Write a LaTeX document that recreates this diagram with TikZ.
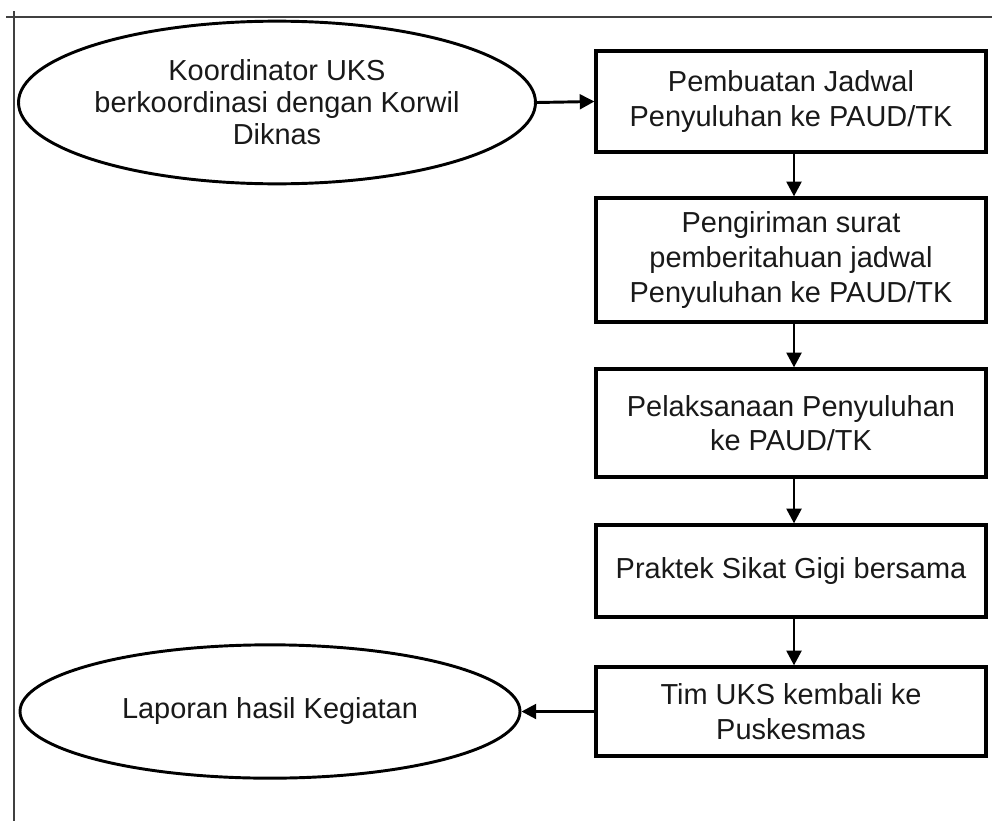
\documentclass[tikz,border=0pt]{standalone}
\usepackage{fontspec}
\setmainfont{Liberation Sans}
\usetikzlibrary{shapes.geometric,arrows.meta}
\begin{document}
\begin{tikzpicture}[x=0.75pt,y=-0.75pt,
  every node/.style={font=\fontsize{21.7pt}{26pt}\selectfont, text=black!90},
  stepbox/.style={draw, line width=2.4pt, rectangle, inner sep=0pt, align=center,
     minimum width=292.5pt},
  oval/.style={draw, line width=2.2pt, ellipse, inner sep=0pt, align=center},
  flow/.style={line width=2.2pt, -{Triangle[width=11pt,length=11pt]}},
  frame/.style={line width=1.3pt, draw=black!75}]
\useasboundingbox (0,0) rectangle (992,821);
% frame lines
\coordinate (ftl) at (6,17);
\coordinate (ftr) at (992,17);
\coordinate (fvt) at (14,11);
\coordinate (fvb) at (14,821);
\draw[frame] (ftl) -- (ftr);
\draw[frame] (fvt) -- (fvb);
% ellipses
\node[oval, minimum width=387.75pt, minimum height=122pt,
  font=\fontsize{21.7pt}{24pt}\selectfont] (e1) at (277,102.5)
  {Koordinator UKS\\berkoordinasi dengan Korwil\\Diknas};
\node[oval, minimum width=375pt, minimum height=100pt] (e2) at (270,711.5)
  {Laporan hasil Kegiatan};
% boxes
\node[stepbox, minimum height=75.75pt] (b1) at (791,101.5)
  {Pembuatan Jadwal\\Penyuluhan ke PAUD/TK};
\node[stepbox, minimum height=93pt] (b2) at (791,260)
  {Pengiriman surat\\pemberitahuan jadwal\\Penyuluhan ke PAUD/TK};
\node[stepbox, minimum height=81pt] (b3) at (791,423)
  {Pelaksanaan Penyuluhan\\ke PAUD/TK};
\node[stepbox, minimum height=69pt] (b4) at (791,571)
  {Praktek Sikat Gigi bersama};
\node[stepbox, minimum height=66.75pt] (b5) at (791,711.5)
  {Tim UKS kembali ke\\Puskesmas};
% connectors
\draw[flow] (e1.east) -- (b1.west);
\draw[flow] ([xshift=2.25pt]b1.south) -- ([xshift=2.25pt]b2.north);
\draw[flow] ([xshift=2.25pt]b2.south) -- ([xshift=2.25pt]b3.north);
\draw[flow] ([xshift=2.25pt]b3.south) -- ([xshift=2.25pt]b4.north);
\draw[flow] ([xshift=2.25pt]b4.south) -- ([xshift=2.25pt]b5.north);
\draw[flow] (b5.west) -- (e2.east);
\end{tikzpicture}
\end{document}
